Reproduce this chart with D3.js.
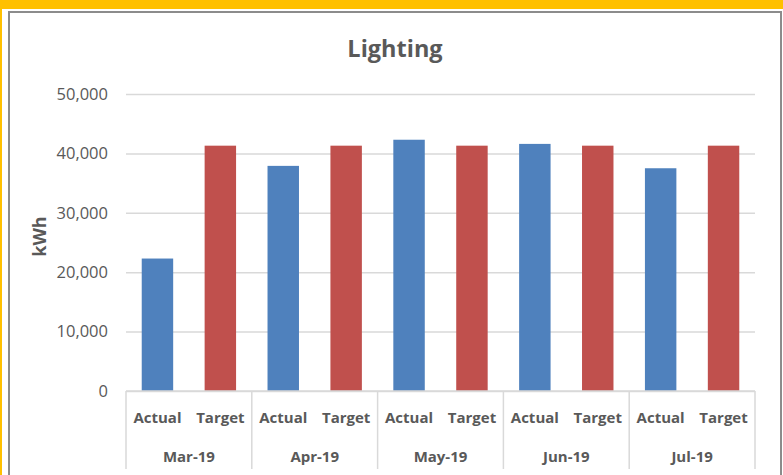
<!DOCTYPE html>
<html>
<head>
<meta charset="utf-8">
<script src="https://cdn.jsdelivr.net/npm/d3@7"></script>
<style>
    html, body { margin: 0; padding: 0; background: #ffc000; overflow: hidden; }
    svg { display: block; font-family: "Open Sans", sans-serif; }
</style>
</head>
<body>
<div id="chart"></div>
<script>
var months = ["Mar-19", "Apr-19", "May-19", "Jun-19", "Jul-19"],
    series = ["Actual", "Target"],
    actual = [22300, 37900, 42300, 41600, 37500],
    target = [41300, 41300, 41300, 41300, 41300],
    yTicks = [0, 10000, 20000, 30000, 40000, 50000];

var colorActual = "#4f81bd",
    colorTarget = "#c0504d",
    textColor = "#595959",
    gridColor = "#d9d9d9";

var width = 783,
    height = 475,
    margin = { top: 94, right: 28, bottom: 84, left: 126 },
    plotW = width - margin.left - margin.right,
    plotH = height - margin.top - margin.bottom;

var svg = d3.select("#chart").append("svg")
    .attr("width", width)
    .attr("height", height);

// white panel with grey frame
svg.append("rect")
    .attr("x", 2).attr("y", 9)
    .attr("width", width).attr("height", height)
    .attr("fill", "#fff");
svg.append("rect")
    .attr("x", 9).attr("y", 12)
    .attr("width", 772).attr("height", height)
    .attr("fill", "none")
    .attr("stroke", "#8c8c8c")
    .attr("stroke-width", 2);

var data = months.map(function (m, i) {
    return { month: m, values: [actual[i], target[i]] };
});

var x0 = d3.scaleBand()
        .domain(months)
        .range([0, plotW]),
    x1 = d3.scaleBand()
        .domain(series)
        .range([0, x0.bandwidth()])
        .paddingInner(0.5)
        .paddingOuter(0.25),
    y = d3.scaleLinear()
        .domain([0, 50000])
        .range([plotH, 0]),
    color = d3.scaleOrdinal()
        .domain(series)
        .range([colorActual, colorTarget]);

var g = svg.append("g")
    .attr("transform", "translate(" + margin.left + "," + margin.top + ")");

// title, centred on the whole chart frame
svg.append("text")
    .attr("x", 395)
    .attr("y", 57)
    .attr("text-anchor", "middle")
    .attr("font-size", 23.5)
    .attr("font-weight", "bold")
    .attr("fill", textColor)
    .text("Lighting");

// y axis title
svg.append("text")
    .attr("transform", "translate(46," + (margin.top + plotH / 2 - 6) + ") rotate(-90)")
    .attr("text-anchor", "middle")
    .attr("font-size", 18)
    .attr("font-weight", "bold")
    .attr("fill", textColor)
    .text("kWh");

// gridlines + y labels
var yAxis = g.append("g")
    .call(d3.axisLeft(y)
        .tickValues(yTicks)
        .tickSize(-plotW)
        .tickPadding(18)
        .tickFormat(d3.format(",")));
yAxis.select(".domain").remove();
yAxis.selectAll(".tick line")
    .attr("stroke", gridColor)
    .attr("stroke-width", 1.5);
yAxis.selectAll(".tick text")
    .attr("font-family", "Open Sans, sans-serif")
    .attr("font-size", 16.5)
    .attr("fill", textColor);

// bars
g.append("g")
    .selectAll("g")
    .data(data)
    .enter().append("g")
    .attr("transform", function (d) { return "translate(" + x0(d.month) + ",0)"; })
    .selectAll("rect")
    .data(function (d) {
        return series.map(function (s, i) { return { key: s, value: d.values[i] }; });
    })
    .enter().append("rect")
    .attr("x", function (d) { return x1(d.key); })
    .attr("y", function (d) { return y(d.value); })
    .attr("width", x1.bandwidth())
    .attr("height", function (d) { return y(0) - y(d.value); })
    .attr("fill", function (d) { return color(d.key); });

// category axis
var axisG = g.append("g").attr("transform", "translate(0," + plotH + ")");

axisG.append("line")
    .attr("x1", 0).attr("x2", plotW)
    .attr("y1", 0).attr("y2", 0)
    .attr("stroke", gridColor)
    .attr("stroke-width", 1.5);

axisG.selectAll(".sep")
    .data(months.concat(["end"]))
    .enter().append("line")
    .attr("class", "sep")
    .attr("x1", function (d, i) { return i * x0.step(); })
    .attr("x2", function (d, i) { return i * x0.step(); })
    .attr("y1", 0).attr("y2", 78)
    .attr("stroke", gridColor)
    .attr("stroke-width", 1.5);

var groups = axisG.selectAll(".grp")
    .data(months)
    .enter().append("g")
    .attr("class", "grp")
    .attr("transform", function (d) { return "translate(" + x0(d) + ",0)"; });

groups.selectAll("text.sub")
    .data(series)
    .enter().append("text")
    .attr("class", "sub")
    .attr("x", function (d) { return x1(d) + x1.bandwidth() / 2; })
    .attr("y", 32)
    .attr("text-anchor", "middle")
    .attr("font-size", 15)
    .attr("font-weight", "bold")
    .attr("fill", textColor)
    .text(function (d) { return d; });

groups.append("text")
    .attr("x", x0.bandwidth() / 2)
    .attr("y", 71)
    .attr("text-anchor", "middle")
    .attr("font-size", 15)
    .attr("font-weight", "bold")
    .attr("fill", textColor)
    .text(function (d) { return d; });
</script>
</body>
</html>
